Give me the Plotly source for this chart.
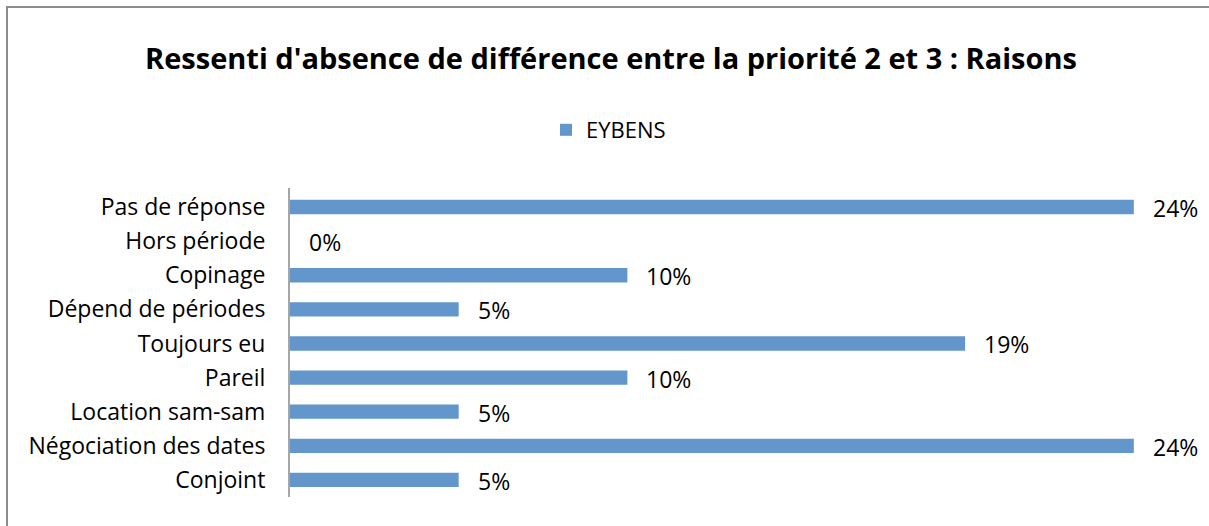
import plotly.graph_objects as go

# Survey answers: share of respondents per reason
categories = [
    "Pas de réponse",
    "Hors période",
    "Copinage",
    "Dépend de périodes",
    "Toujours eu",
    "Pareil",
    "Location sam-sam",
    "Négociation des dates",
    "Conjoint",
]
shares = [0.2381, 0.0, 0.0952, 0.0476, 0.1905, 0.0952, 0.0476, 0.2381, 0.0476]
series_name = "EYBENS"
title_text = "Ressenti d'absence de différence entre la priorité 2 et 3 : Raisons"

BAR_COLOR = "#6397CB"
FONT = "Open Sans"
LABEL_SIZE = 23

fig = go.Figure()
fig.add_trace(go.Bar(
    y=categories,
    x=shares,
    orientation="h",
    name=series_name,
    width=0.42,
    marker=dict(color=BAR_COLOR, line=dict(width=0)),
    showlegend=True,
))

# value labels to the right of each bar
for cat, v in zip(categories, shares):
    fig.add_annotation(
        x=v, y=cat, xref="x", yref="y",
        text=f"{v:.0%}", showarrow=False,
        xanchor="left", xshift=17, yshift=-1,
        font=dict(family=FONT, size=LABEL_SIZE, color="#000000"),
    )

# outer chart frame
fig.add_shape(
    type="rect", xref="paper", yref="paper",
    x0=-0.3194, x1=1.2, y0=-0.3, y1=1.5858,
    line=dict(color="#8C8C8C", width=2), fillcolor="rgba(0,0,0,0)",
    layer="below",
)

fig.update_layout(
    width=1209, height=526,
    margin=dict(l=290, r=33, t=188, b=29),
    paper_bgcolor="white", plot_bgcolor="white",
    font=dict(family=FONT, size=LABEL_SIZE, color="#000000"),
    title=dict(
        text=f"<b>{title_text}</b>",
        x=611 / 1209, xref="container", xanchor="center",
        y=1 - 59 / 526, yref="container", yanchor="middle",
        font=dict(family=FONT, size=29, color="#000000"),
    ),
    legend=dict(
        orientation="h",
        x=546 / 1209, xref="container", xanchor="left",
        y=1 - 130 / 526, yref="container", yanchor="middle",
        font=dict(family=FONT, size=22, color="#000000"),
        itemwidth=30,
    ),
    xaxis=dict(
        range=[0, 0.25], visible=False, showgrid=False, zeroline=False,
    ),
    yaxis=dict(
        categoryorder="array", categoryarray=categories, autorange="reversed",
        showline=True, linecolor="#A6A6A6", linewidth=2,
        showgrid=False, zeroline=False, ticks="",
        ticklabelstandoff=18,
        tickfont=dict(family=FONT, size=LABEL_SIZE, color="#000000"),
    ),
    bargap=0.58,
)

fig.write_html("out.html")
